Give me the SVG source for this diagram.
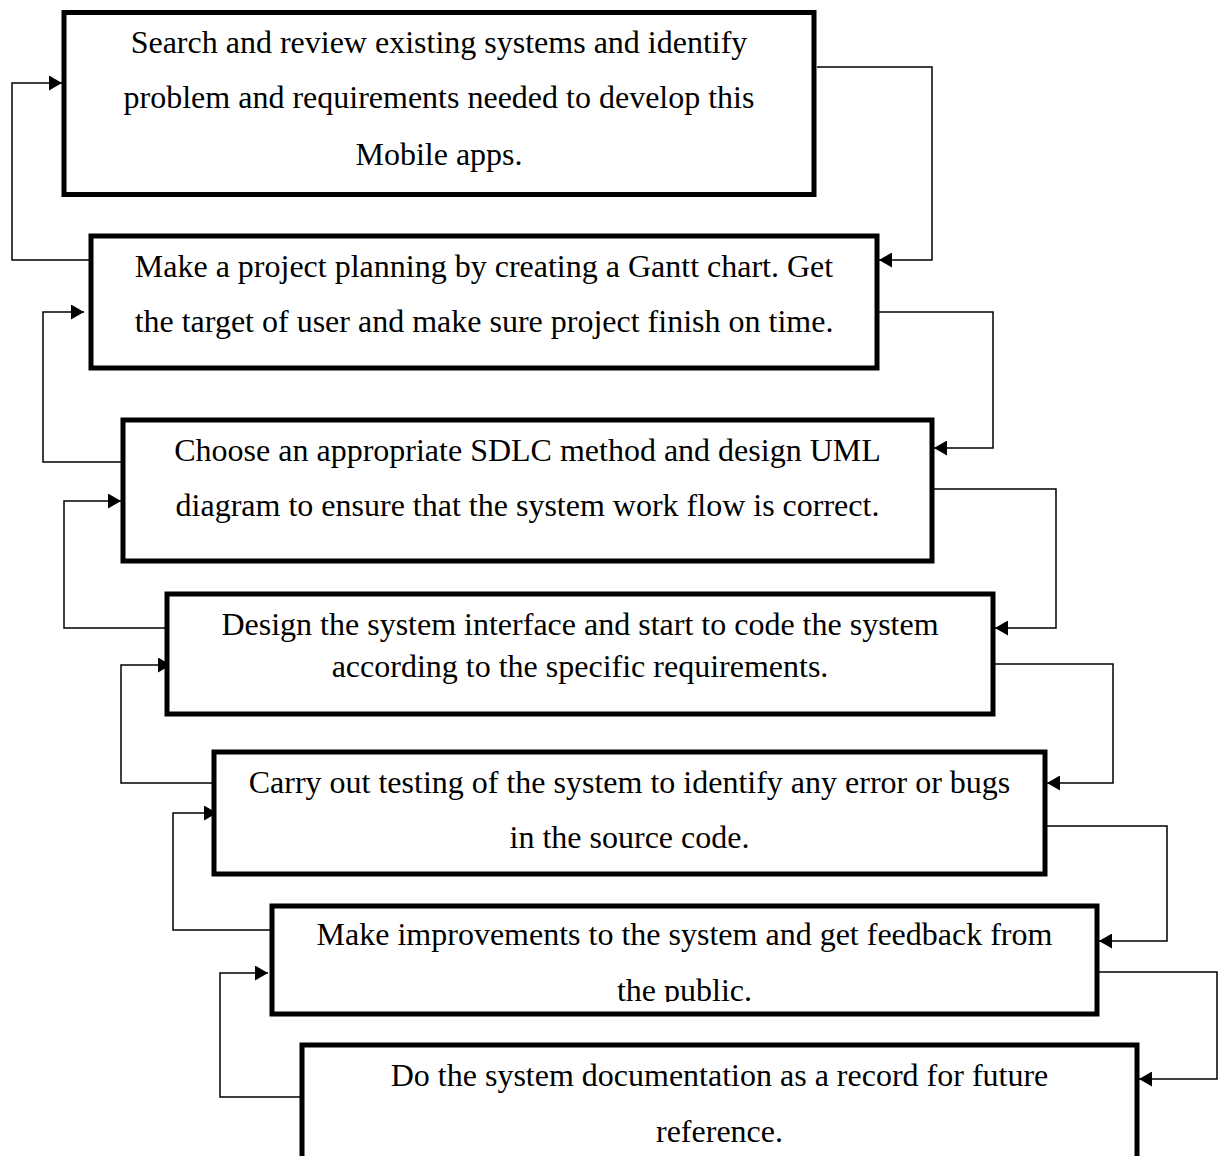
<svg xmlns="http://www.w3.org/2000/svg" width="1219" height="1156" viewBox="0 0 1219 1156">
<style>
.box{fill:#fff;stroke:#000;stroke-width:5}
.t{font-family:"Liberation Serif","Times New Roman",serif;font-size:32px;fill:#000;text-anchor:middle}
.c{fill:none;stroke:#000;stroke-width:1.5}
</style>
<defs>
<marker id="ah" markerUnits="userSpaceOnUse" markerWidth="14" markerHeight="15" refX="13" refY="7.5" orient="auto">
<path d="M0,0 L13,7.5 L0,15 z" fill="#000"/>
</marker>
<clipPath id="clip6"><rect x="272" y="906" width="825" height="96"/></clipPath>
</defs>
<rect width="1219" height="1156" fill="#fff"/>
<g id="connectors">
<polyline class="c" marker-end="url(#ah)" points="89,260 12,260 12,83 62,83"/>
<polyline class="c" marker-end="url(#ah)" points="121,462 43,462 43,312 84,312"/>
<polyline class="c" marker-end="url(#ah)" points="165,628 64,628 64,501 121,501"/>
<polyline class="c" marker-end="url(#ah)" points="212,783 121,783 121,665 171,665"/>
<polyline class="c" marker-end="url(#ah)" points="270,930 173,930 173,813 217,813"/>
<polyline class="c" marker-end="url(#ah)" points="300,1097 220,1097 220,973 268,973"/>
<polyline class="c" marker-end="url(#ah)" points="817,67 932,67 932,260 879,260"/>
<polyline class="c" marker-end="url(#ah)" points="879,312 993,312 993,448 934,448"/>
<polyline class="c" marker-end="url(#ah)" points="934,489 1056,489 1056,628 995,628"/>
<polyline class="c" marker-end="url(#ah)" points="995,664 1113,664 1113,783 1047,783"/>
<polyline class="c" marker-end="url(#ah)" points="1047,826 1167,826 1167,941 1099,941"/>
<polyline class="c" marker-end="url(#ah)" points="1099,972 1217,972 1217,1079 1139,1079"/>
</g>
<g id="n1">
<rect class="box" x="64" y="12.5" width="750" height="182"/>
<text class="t" x="439" y="53">Search and review existing systems and identify</text>
<text class="t" x="439" y="108">problem and requirements needed to develop this</text>
<text class="t" x="439" y="165">Mobile apps.</text>
</g>
<g id="n2">
<rect class="box" x="91" y="236" width="786" height="132"/>
<text class="t" x="484" y="277">Make a project planning by creating a Gantt chart. Get</text>
<text class="t" x="484" y="332">the target of user and make sure project finish on time.</text>
</g>
<g id="n3">
<rect class="box" x="123" y="420" width="809" height="141"/>
<text class="t" x="527.5" y="461">Choose an appropriate SDLC method and design UML</text>
<text class="t" x="527.5" y="516">diagram to ensure that the system work flow is correct.</text>
</g>
<g id="n4">
<rect class="box" x="167" y="594" width="826" height="120"/>
<text class="t" x="580" y="635">Design the system interface and start to code the system</text>
<text class="t" x="580" y="677">according to the specific requirements.</text>
</g>
<g id="n5">
<rect class="box" x="214" y="752" width="831" height="122"/>
<text class="t" x="629.5" y="793">Carry out testing of the system to identify any error or bugs</text>
<text class="t" x="629.5" y="848">in the source code.</text>
</g>
<g id="n6">
<rect class="box" x="272" y="906" width="825" height="108"/>
<text class="t" x="684.5" y="945">Make improvements to the system and get feedback from</text>
<text class="t" x="684.5" y="1001" clip-path="url(#clip6)">the public.</text>
</g>
<g id="n7">
<rect class="box" x="302" y="1045" width="835" height="140"/>
<text class="t" x="719.5" y="1086">Do the system documentation as a record for future</text>
<text class="t" x="719.5" y="1142">reference.</text>
</g>
</svg>
